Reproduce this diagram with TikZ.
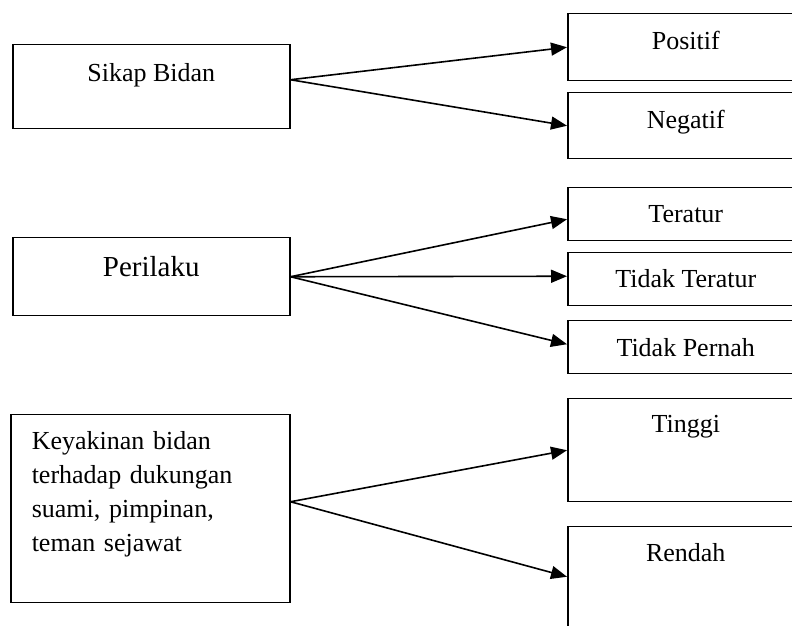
\documentclass[tikz,border=0pt]{standalone}
\usepackage{fontspec}
\setmainfont{Liberation Serif}
\usetikzlibrary{arrows.meta}

\begin{document}
\begin{tikzpicture}[x=1pt,y=1pt,font=\fontsize{26}{34}\selectfont,
        factor/.style={draw,line width=1.5pt,inner sep=0pt,anchor=north west,
                       minimum width=277pt,align=center},
        level/.style={draw,line width=1.5pt,inner sep=0pt,anchor=north west,
                      minimum width=236pt,align=center},
        link/.style={-{Triangle[length=16pt,width=13pt]},line width=1.6pt}]
      \clip (0,0) rectangle (792,626);
      \node[factor,text height=37pt,text depth=47pt] (sikap) at (12,582) {Sikap Bidan};
      \node[factor,text height=39pt,text depth=39pt,font=\fontsize{29}{34}\selectfont]
        (perilaku) at (12,389) {Perilaku};
      \node[factor,minimum width=279pt,inner xsep=21pt,text width=237pt,align=left,
            text height=35pt,text depth=153pt] (keyakinan) at (10,212)
        {Keyakinan bidan\\terhadap dukungan\\suami, pimpinan,\\teman sejawat};
      \node[level,text height=36pt,text depth=31pt] (positif) at (567,613) {Positif};
      \node[level,text height=36pt,text depth=30pt] (negatif) at (567,534) {Negatif};
      \node[level,text height=35pt,text depth=18pt] (teratur) at (567,439) {Teratur};
      \node[level,text height=35pt,text depth=18pt] (tidakteratur) at (567,374) {Tidak Teratur};
      \node[level,text height=36pt,text depth=17pt] (tidakpernah) at (567,306) {Tidak Pernah};
      \node[level,text height=34pt,text depth=69pt] (tinggi) at (567,228) {Tinggi};
      \node[level,text height=35pt,text depth=75pt] (rendah) at (567,100) {Rendah};
      \draw[link] ([yshift=7pt]sikap.east)--(positif.west);
      \draw[link] ([yshift=7pt]sikap.east)--(negatif.west);
      \draw[link] (perilaku.east)--([yshift=-5pt]teratur.west);
      \draw[link] (perilaku.east)--([yshift=3pt]tidakteratur.west);
      \draw[link] (perilaku.east)--([yshift=3pt]tidakpernah.west);
      \draw[link] ([yshift=7pt]keyakinan.east)--(tinggi.west);
      \draw[link] ([yshift=7pt]keyakinan.east)--([yshift=5pt]rendah.west);
    \end{tikzpicture}
\end{document}
